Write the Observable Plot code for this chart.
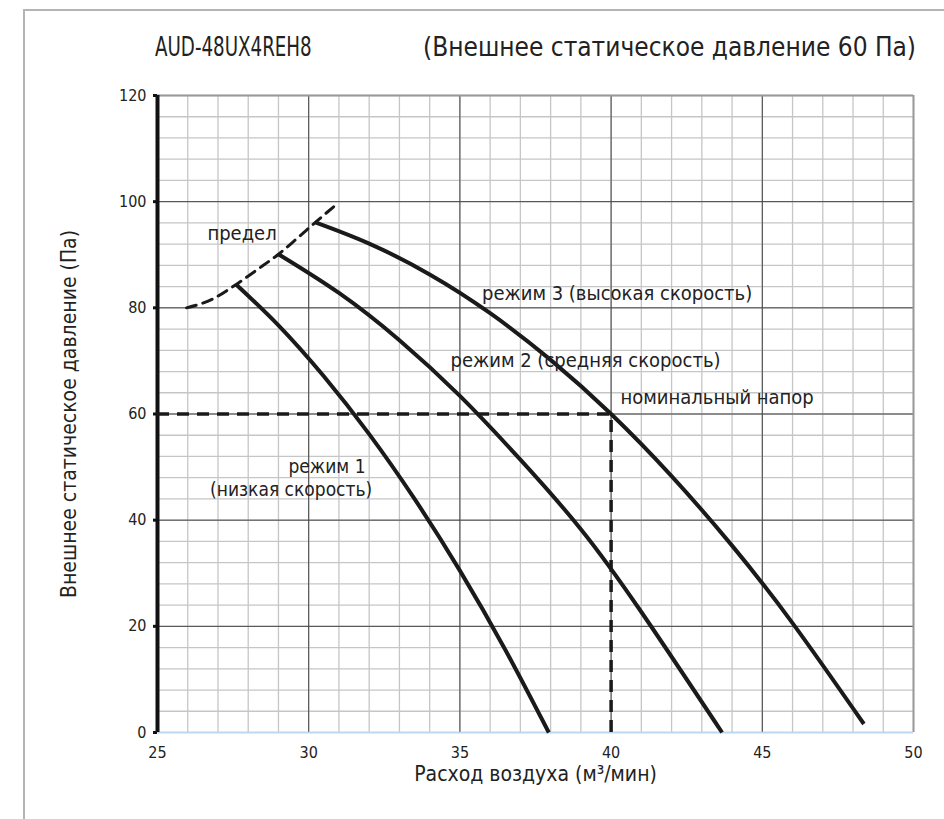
<!DOCTYPE html>
<html>
<head>
<meta charset="utf-8">
<script src="https://cdn.jsdelivr.net/npm/d3@7"></script>
<script src="https://cdn.jsdelivr.net/npm/@observablehq/plot@0.6"></script>
<style>
  html, body { margin: 0; padding: 0; background: #fff; }
  #wrap { position: relative; width: 944px; height: 819px; overflow: hidden;
          font-family: 'Liberation Sans Narrow', 'DejaVu Sans Condensed', sans-serif; color: #222; }
  #frame { position: absolute; left: 23px; top: 9px; right: -5px; bottom: -5px;
           border-left: 2px solid #b4b4b4; border-top: 2px solid #b4b4b4; }
  .title { position: absolute; top: 30px; font-size: 26px; line-height: 34px; white-space: nowrap; }
  #t1 { left: 155px; transform: scaleX(0.78); transform-origin: left center; }
  #t2 { right: 28px; }
  #chart { position: absolute; left: 0; top: 80px; }
  #chart svg { font-family: 'Liberation Sans Narrow', 'DejaVu Sans Condensed', sans-serif; }
  #chart [aria-label="x-axis label"] text, #chart [aria-label="y-axis label"] text { font-size: 21px; fill: #222; }
</style>
</head>
<body>
<div id="wrap">
  <div id="frame"></div>
  <div class="title" id="t1">AUD-48UX4REH8</div>
  <div class="title" id="t2">(Внешнее статическое давление 60 Па)</div>
  <div id="chart"></div>
</div>
<script>
// ---- data ----
const xTicks = [25, 30, 35, 40, 45, 50];
const yTicks = [0, 20, 40, 60, 80, 100, 120];

const limitFlow     = [25.96, 26.8, 27.6, 28.3, 29.0, 29.6, 30.22, 30.9];
const limitPressure = [80.0, 81.6, 84.4, 87.2, 90.1, 93.0, 96.1, 99.4];

const mode1Flow     = [27.6, 29.0, 30.5, 32.0, 33.5, 35.0, 36.5, 37.94];
const mode1Pressure = [84.4, 76.7, 67.1, 56.2, 44.0, 30.5, 15.6, 0];

const mode2Flow     = [29.0, 31.0, 33.0, 35.0, 37.0, 39.0, 41.0, 43.67];
const mode2Pressure = [90.1, 82.8, 73.9, 63.4, 51.4, 38.3, 22.7, 0];

const mode3Flow     = [30.22, 32.0, 34.0, 36.0, 38.0, 40.0, 42.0, 44.0, 46.0, 48.36];
const mode3Pressure = [96.1, 92.1, 86.3, 79.0, 70.2, 60.0, 48.3, 35.2, 20.6, 1.6];

const ratedFlow = 40;
const ratedPressure = 60;

const labelText     = ["предел", "режим 3 (высокая скорость)", "режим 2 (средняя скорость)", "номинальный напор"];
const labelFlow     = [26.65, 35.73, 34.69, 40.31];
const labelPressure = [94.0, 82.7, 70.1, 63.1];

const label1Text     = ["режим 1", "(низкая скорость)"];
const label1Flow     = [31.88, 32.1];
const label1Pressure = [50.1, 45.7];

// ---- build tables ----
const toRows = (fx, fy, name) => fx.map((x, i) => ({x, y: fy[i], name}));
const limitRows = toRows(limitFlow, limitPressure, "limit");
const modeRows = [
  ...toRows(mode1Flow, mode1Pressure, "m1"),
  ...toRows(mode2Flow, mode2Pressure, "m2"),
  ...toRows(mode3Flow, mode3Pressure, "m3")
];
const labels = labelText.map((t, i) => ({t, x: labelFlow[i], y: labelPressure[i]}));
const labels1 = label1Text.map((t, i) => ({t, x: label1Flow[i], y: label1Pressure[i]}));

const minorX = d3.range(25, 51, 1);
const minorY = d3.range(0, 121, 4);

const chart = Plot.plot({
  width: 944,
  height: 739,
  marginLeft: 157,
  marginRight: 31,
  marginTop: 15,
  marginBottom: 87,
  style: {fontSize: "16px", color: "#222", background: "transparent"},
  x: {domain: [25, 50]},
  y: {domain: [0, 120]},
  marks: [
    Plot.ruleX(minorX, {stroke: "#c6c6c6", strokeWidth: 1.3}),
    Plot.ruleY(minorY, {stroke: "#c6c6c6", strokeWidth: 1.3}),
    Plot.ruleX(xTicks.slice(1, -1), {stroke: "#444", strokeWidth: 1}),
    Plot.ruleY(yTicks.slice(1, -1), {stroke: "#444", strokeWidth: 1}),
    Plot.ruleY([120], {stroke: "#999", strokeWidth: 2}),
    Plot.ruleX([50], {stroke: "#999", strokeWidth: 2}),
    Plot.ruleY([0], {stroke: "#bcd6f0", strokeWidth: 1.5}),
    Plot.axisY({ticks: yTicks, tickSize: 4, tickPadding: 7, stroke: "#111", strokeWidth: 3,
                label: "Внешнее статическое давление (Па)", labelAnchor: "center", labelArrow: "none", labelOffset: 96}),
    Plot.axisX({ticks: xTicks, tickSize: 0, tickPadding: 14,
                label: "Расход воздуха (м³/мин)", labelAnchor: "center", labelArrow: "none", labelOffset: 48}),
    Plot.ruleX([25], {stroke: "#111", strokeWidth: 4}),
    Plot.ruleY([ratedPressure], {x1: 25, x2: ratedFlow, stroke: "#1a1a1a", strokeWidth: 3.5, strokeDasharray: "12,8"}),
    Plot.ruleX([ratedFlow], {y1: 0, y2: ratedPressure, stroke: "#1a1a1a", strokeWidth: 3.5, strokeDasharray: "12,8"}),
    Plot.line(limitRows, {x: "x", y: "y", curve: "monotone-x", stroke: "#1a1a1a", strokeWidth: 3, strokeDasharray: "10,7"}),
    Plot.line(modeRows, {x: "x", y: "y", z: "name", curve: "natural", stroke: "#1a1a1a", strokeWidth: 4, strokeLinecap: "butt"}),
    Plot.text(labels, {x: "x", y: "y", text: "t", textAnchor: "start", fontSize: 20, fill: "#222"}),
    Plot.text(labels1, {x: "x", y: "y", text: "t", textAnchor: "end", fontSize: 19, fill: "#222"})
  ]
});
document.getElementById("chart").appendChild(chart);
</script>
</body>
</html>
